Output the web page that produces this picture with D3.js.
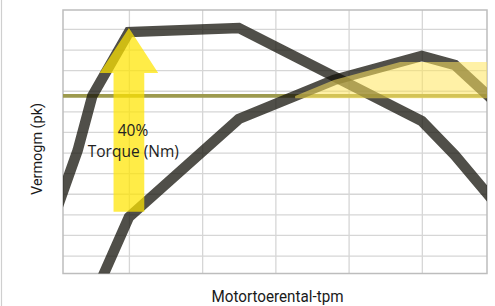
<!DOCTYPE html>
<html><head><meta charset="utf-8">
<script src="https://cdn.jsdelivr.net/npm/d3@7/dist/d3.min.js"></script>
<style>body{margin:0;background:#fff}svg{display:block}</style>
</head><body><svg id="c" width="495" height="306"></svg>
<script>
// ---- data ----
const rpmGrid = [1000, 2000, 3000, 4000, 5000];
const valueGrid = [10, 20, 30, 40, 50, 60, 70, 80, 90, 100, 110, 120];
const powerRpm = [0, 300, 500, 1000, 2500, 5000, 5450, 6000];
const powerVal = [31, 61, 87.5, 118.5, 120.5, 75.3, 58.8, 35.5];
const torqueRpm = [560, 1000, 2500, 3800, 5000, 5450, 6000];
const torqueVal = [-6.7, 28.7, 76.3, 95.2, 106.9, 102.5, 84.5];
const refLevel = 87.5;
const bandRpm = [3270, 3800, 4703, 5890, 5890, 3270];
const bandVal = [87.5, 95.2, 104, 104, 86.4, 86.4];
const arrowRpm = 1000, arrowTip = 120.5, arrowHeadBase = 98.6, arrowBottom = 31.3;
const arrowHeadHalf = 400, arrowShaftHalf = 210;
const annotLines = ["40%", "Torque (Nm)"];
const xTitle = "Motortoerental-tpm";
const yTitle = "Vermogm (pk)";

// ---- layout ----
const L = 63, R = 487, T = 10, B = 273.5;
const svg = d3.select("#c");
const x = d3.scaleLinear().domain([100, 5890]).range([L, R]);
const y = d3.scaleLinear().domain([1.3, 129.2]).range([B, T]);

svg.append("line").attr("x1", 1.5).attr("x2", 1.5).attr("y1", 0).attr("y2", 306)
  .attr("stroke", "#cfcfcf").attr("stroke-width", 1.2);

svg.append("defs").append("clipPath").attr("id", "clip")
  .append("rect").attr("x", L).attr("y", T).attr("width", R - L).attr("height", B - T);

// grid
const gy = svg.append("g").attr("transform", `translate(${L},0)`)
  .call(d3.axisLeft(y).tickValues(valueGrid).tickSize(-(R - L)).tickFormat(() => ""));
const gx = svg.append("g").attr("transform", `translate(0,${B})`)
  .call(d3.axisBottom(x).tickValues(rpmGrid).tickSize(-(B - T)).tickFormat(() => ""));
[gx, gy].forEach(g => {
  g.select(".domain").remove();
  g.selectAll(".tick line").attr("stroke", "#d6d6d6").attr("stroke-width", 1.3);
});
svg.append("rect").attr("x", L).attr("y", T).attr("width", R - L).attr("height", B - T)
  .attr("fill", "none").attr("stroke", "#bdbdbd").attr("stroke-width", 1.5);

const plot = svg.append("g").attr("clip-path", "url(#clip)");

// reference line
plot.append("line").attr("x1", L).attr("x2", R).attr("y1", y(refLevel)).attr("y2", y(refLevel))
  .attr("stroke", "#9d9a4e").attr("stroke-width", 3.6);

// curves
const line = d3.line().x(d => x(d[0])).y(d => y(d[1])).curve(d3.curveLinear);
const series = [d3.zip(powerRpm, powerVal), d3.zip(torqueRpm, torqueVal)];
series.forEach(s => {
  plot.append("path").datum(s).attr("d", line)
    .attr("fill", "none").attr("stroke", "rgb(19,17,10)").attr("stroke-opacity", 0.74)
    .attr("stroke-width", 10.5).attr("stroke-linejoin", "miter");
});

// light yellow band
plot.append("path").datum(d3.zip(bandRpm, bandVal))
  .attr("d", d3.line().x(d => x(d[0])).y(d => y(d[1])))
  .attr("fill", "#ffe65c").attr("fill-opacity", 0.55);

// arrow
const arrowPts = [
  [arrowRpm, arrowTip],
  [arrowRpm + arrowHeadHalf, arrowHeadBase],
  [arrowRpm + arrowShaftHalf, arrowHeadBase],
  [arrowRpm + arrowShaftHalf, arrowBottom],
  [arrowRpm - arrowShaftHalf, arrowBottom],
  [arrowRpm - arrowShaftHalf, arrowHeadBase],
  [arrowRpm - arrowHeadHalf, arrowHeadBase]
];
plot.append("path").datum(arrowPts)
  .attr("d", d3.line().x(d => x(d[0])).y(d => y(d[1])).curve(d3.curveLinearClosed))
  .attr("fill", "#ffe500").attr("fill-opacity", 0.72);

// annotation text
svg.append("text").attr("x", 133).attr("y", 136).attr("text-anchor", "middle")
  .attr("font-family", "'Open Sans', sans-serif").attr("font-size", 15.5).attr("fill", "#222")
  .text(annotLines[0]);
svg.append("text").attr("x", 133.3).attr("y", 156.5).attr("text-anchor", "middle")
  .attr("font-family", "'Open Sans', sans-serif").attr("font-size", 15.5).attr("fill", "#222")
  .text(annotLines[1]);

// axis titles
svg.append("text").attr("x", 277.5).attr("y", 302).attr("text-anchor", "middle")
  .attr("font-family", "Roboto, sans-serif").attr("font-size", 16).attr("fill", "#1a1a1a")
  .attr("textLength", 132).attr("lengthAdjust", "spacingAndGlyphs")
  .text(xTitle);
svg.append("text").attr("transform", "translate(42,149) rotate(-90)").attr("text-anchor", "middle")
  .attr("font-family", "Roboto, sans-serif").attr("font-size", 15).attr("fill", "#1a1a1a")
  .attr("textLength", 92).attr("lengthAdjust", "spacingAndGlyphs")
  .text(yTitle);
</script>
</body></html>
